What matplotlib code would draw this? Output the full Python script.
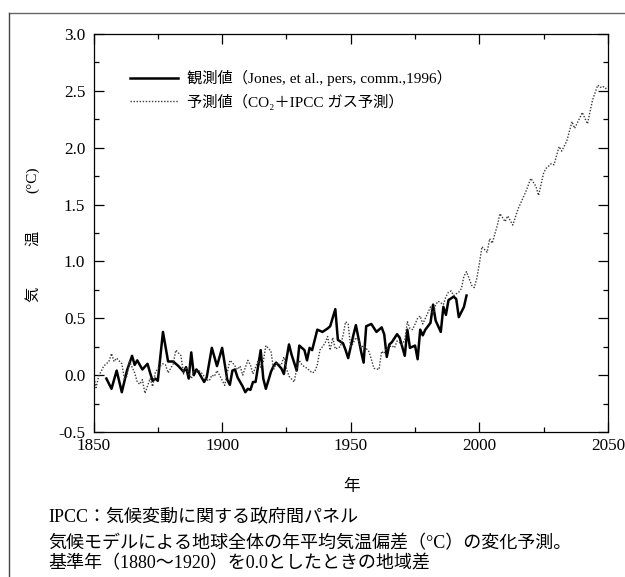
import matplotlib
matplotlib.use("Agg")
import matplotlib.pyplot as plt
from matplotlib.lines import Line2D
from matplotlib.ticker import MultipleLocator

obs_years = [1855, 1857, 1859, 1861, 1863, 1865, 1866, 1867, 1869, 1871,
             1872, 1873, 1874, 1875, 1877, 1879, 1881, 1883, 1885, 1886,
             1887, 1888, 1889, 1890, 1891, 1893, 1894, 1896, 1898, 1900,
             1902, 1903, 1904, 1905, 1906, 1908, 1909, 1910, 1911, 1912,
             1913, 1915, 1916, 1917, 1919, 1920, 1921, 1923, 1924, 1926,
             1927, 1929, 1930, 1932, 1933, 1934, 1935, 1937, 1939, 1941,
             1942, 1944, 1945, 1947, 1948, 1949, 1951, 1952, 1954, 1955,
             1956, 1958, 1960, 1962, 1963, 1964, 1965, 1966, 1968, 1969,
             1971, 1972, 1973, 1975, 1976, 1977, 1978, 1979, 1981, 1982,
             1983, 1985, 1986, 1987, 1988, 1990, 1991, 1992, 1994, 1995]
obs_values = [-0.03, -0.12, 0.04, -0.15, 0.04, 0.17, 0.09, 0.13, 0.05, 0.10,
              0.02, -0.05, -0.03, -0.05, 0.38, 0.12, 0.12, 0.08, 0.03, 0.07,
              -0.03, 0.20, 0.00, 0.05, 0.02, -0.06, -0.02, 0.24, 0.08, 0.24,
              -0.04, -0.085, 0.04, 0.05, -0.02, -0.10, -0.15, -0.12, -0.13, -0.06,
              -0.06, 0.22, -0.03, -0.12, 0.03, 0.08, 0.11, 0.06, 0.01, 0.27,
              0.18, 0.04, 0.26, 0.22, 0.13, 0.24, 0.22, 0.40, 0.38, 0.41,
              0.43, 0.58, 0.31, 0.28, 0.22, 0.15, 0.35, 0.44, 0.21, 0.11,
              0.43, 0.45, 0.38, 0.42, 0.36, 0.16, 0.27, 0.29, 0.36, 0.33,
              0.17, 0.40, 0.24, 0.26, 0.14, 0.40, 0.35, 0.40, 0.46, 0.62,
              0.48, 0.38, 0.60, 0.53, 0.66, 0.69, 0.67, 0.51, 0.60, 0.70]

# model projection (CO2 + IPCC gases)
pred_years = [1850, 1851, 1852, 1854, 1856, 1857, 1858, 1859, 1861, 1862,
              1863, 1864, 1866, 1867, 1868, 1869, 1870, 1872, 1873, 1874,
              1875, 1877, 1878, 1879, 1881, 1882, 1884, 1885, 1886, 1888,
              1889, 1891, 1892, 1894, 1895, 1896, 1897, 1898, 1899, 1901,
              1902, 1903, 1904, 1906, 1907, 1908, 1910, 1911, 1912, 1914,
              1915, 1916, 1917, 1919, 1920, 1921, 1923, 1924, 1925, 1926,
              1928, 1929, 1930, 1931, 1933, 1935, 1936, 1937, 1938, 1940,
              1941, 1942, 1943, 1944, 1946, 1947, 1948, 1949, 1950, 1952,
              1953, 1954, 1955, 1957, 1958, 1959, 1961, 1962, 1963, 1964,
              1966, 1967, 1968, 1970, 1971, 1972, 1973, 1974, 1976, 1977,
              1978, 1979, 1981, 1982, 1983, 1984, 1986, 1987, 1988, 1989,
              1990, 1992, 1993, 1994, 1995, 1997, 1998, 1999, 2000, 2001,
              2003, 2004, 2005, 2007, 2008, 2010, 2011, 2013, 2015, 2016,
              2018, 2020, 2022, 2023, 2025, 2026, 2028, 2029, 2031, 2032,
              2034, 2036, 2037, 2039, 2040, 2042, 2044, 2046, 2047, 2048,
              2049, 2050]
pred_values = [0.00, -0.11, -0.01, 0.08, 0.12, 0.19, 0.12, 0.15, 0.10, -0.03,
               -0.01, 0.12, 0.02, -0.06, -0.08, -0.04, -0.16, -0.03, -0.10, 0.02,
               0.06, 0.10, 0.09, 0.02, 0.10, 0.22, 0.17, 0.01, 0.07, -0.03,
               0.03, 0.04, 0.02, -0.04, -0.05, 0.00, -0.01, 0.04, 0.00, -0.09,
               0.02, 0.13, 0.11, 0.05, 0.08, 0.00, 0.13, 0.09, 0.01, 0.13,
               0.07, 0.12, 0.26, 0.21, 0.05, 0.10, 0.09, 0.16, 0.06, -0.01,
               -0.06, 0.06, 0.13, 0.09, 0.06, 0.02, 0.03, 0.09, 0.22, 0.28,
               0.34, 0.22, 0.33, 0.23, 0.25, 0.35, 0.47, 0.45, 0.24, 0.33,
               0.31, 0.24, 0.26, 0.21, 0.14, 0.06, 0.05, 0.21, 0.19, 0.24,
               0.26, 0.24, 0.30, 0.27, 0.31, 0.47, 0.41, 0.40, 0.50, 0.52,
               0.45, 0.50, 0.60, 0.53, 0.62, 0.65, 0.62, 0.69, 0.73, 0.74,
               0.70, 0.73, 0.76, 0.87, 0.91, 0.79, 0.77, 0.85, 0.98, 1.13,
               1.08, 1.20, 1.16, 1.32, 1.42, 1.35, 1.40, 1.32, 1.46, 1.51,
               1.61, 1.73, 1.66, 1.58, 1.78, 1.82, 1.86, 1.85, 2.01, 1.97,
               2.06, 2.23, 2.17, 2.26, 2.31, 2.21, 2.42, 2.55, 2.53, 2.54,
               2.52, 2.53]

obs_label = "観測値（Jones, et al., pers, comm.,1996）"
pred_label = "予測値（CO₂＋IPCC ガス予測）"
caption = ["IPCC：気候変動に関する政府間パネル",
           "気候モデルによる地球全体の年平均気温偏差（°C）の変化予測。",
           "基準年（1880〜1920）を0.0としたときの地域差"]
caption_y = [518, 544, 564]

fonts = ["Liberation Serif", "Noto Sans CJK JP", "DejaVu Sans"]
plt.rcParams["font.family"] = fonts

fig = plt.figure(figsize=(6.25, 5.77), dpi=100)
ax = fig.add_axes([0.1496, 0.2513, 0.8232, 0.6898])

ax.plot(obs_years, obs_values, color="black", lw=1.8, label=obs_label)
ax.plot(pred_years, pred_values, color="#3a3a3a", lw=1.0,
        linestyle=(0, (1, 1.2)), label=pred_label)

ax.set_xlim(1850, 2050)
ax.set_ylim(-0.5, 3.0)
ax.xaxis.set_major_locator(MultipleLocator(50))
ax.xaxis.set_minor_locator(MultipleLocator(25))
ax.yaxis.set_major_locator(MultipleLocator(0.5))
ax.yaxis.set_minor_locator(MultipleLocator(0.25))
ax.yaxis.set_major_formatter(plt.FormatStrFormatter("%.1f"))
ax.tick_params(which="both", direction="in", top=True, right=True,
               width=0.9, labelsize=12.3)
ax.tick_params(which="major", length=7)
ax.tick_params(which="minor", length=3.6)
ax.tick_params(axis="y", pad=6)
ax.tick_params(axis="x", pad=4)
for s in ax.spines.values():
    s.set_linewidth(0.9)

ax.legend(loc="upper left", bbox_to_anchor=(0.06, 0.925), frameon=False,
          fontsize=11, handlelength=3.1, handletextpad=0.6,
          labelspacing=0.5, borderaxespad=0)

fig.text(352 / 625, 1 - 487 / 577, "年", ha="center", va="center", fontsize=12)
fig.text(33 / 625, 1 - 294 / 577, "気", ha="center", va="center",
         rotation=90, fontsize=11)
fig.text(33 / 625, 1 - 238 / 577, "温", ha="center", va="center",
         rotation=90, fontsize=11)
fig.text(33 / 625, 1 - 180 / 577, "(°C)", ha="center", va="center",
         rotation=90, fontsize=11)

for line, y in zip(caption, caption_y):
    fig.text(48 / 625, 1 - y / 577, line, ha="left", va="center",
             fontsize=13)

# scanned page frame
fig.add_artist(Line2D([9 / 625, 1], [1 - 13 / 577] * 2, color="#666666", lw=1))
fig.add_artist(Line2D([9 / 625] * 2, [0, 1 - 13 / 577], color="#444444", lw=1))

fig.savefig("out.png", dpi=100)
